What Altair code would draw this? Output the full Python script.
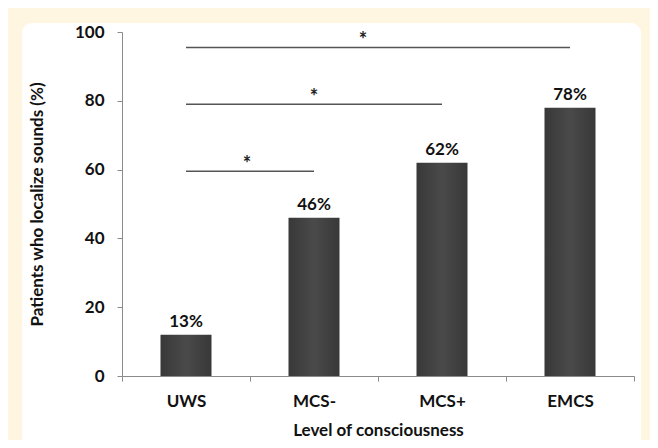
import altair as alt
import pandas as pd

categories = ["UWS", "MCS-", "MCS+", "EMCS"]
values = [12, 46, 62, 78]
value_labels = ["13%", "46%", "62%", "78%"]

sig_from = ["UWS", "UWS", "UWS"]
sig_to = ["MCS-", "MCS+", "EMCS"]
sig_y = [59.5, 79, 95.5]

y_ticks = [0, 20, 40, 60, 80, 100]

FONT = "Lato"
AXIS_GRAY = "#8a8a8a"
FS = 17

bars_df = pd.DataFrame({"cat": categories, "val": values, "lab": value_labels})
sig_df = pd.DataFrame({"from": sig_from, "to": sig_to, "y": sig_y})

xscale = alt.Scale(domain=categories, paddingInner=0, paddingOuter=0)
yscale = alt.Scale(domain=[0, 100])

panel = alt.Chart(pd.DataFrame({"a": [0]})).mark_rect(
    fill="white", cornerRadius=10
).encode(
    x=alt.value(-100), x2=alt.value(519), y=alt.value(-9), y2=alt.value(430)
)

bars = alt.Chart(bars_df).mark_bar(
    size=51,
    fill=alt.Gradient(
        gradient="linear", x1=0, x2=1, y1=0, y2=0,
        stops=[
            alt.GradientStop(color="#383838", offset=0),
            alt.GradientStop(color="#4a4a4a", offset=0.5),
            alt.GradientStop(color="#383838", offset=1),
        ],
    ),
).encode(
    x=alt.X(
        "cat:N", scale=xscale, sort=categories,
        axis=alt.Axis(
            title="Level of consciousness", labelAngle=0, tickBand="extent",
            labelFont=FONT, labelFontSize=FS, labelFontWeight="bold", labelColor="#111",
            titleFont=FONT, titleFontSize=FS, titleFontWeight="bold", titleColor="#111",
            domainColor=AXIS_GRAY, tickColor=AXIS_GRAY, tickSize=5,
            labelPadding=12, titlePadding=13, zindex=1,
        ),
    ),
    y=alt.Y(
        "val:Q", scale=yscale,
        axis=alt.Axis(
            title="Patients who localize sounds (%)", values=y_ticks, grid=False,
            labelFont=FONT, labelFontSize=FS, labelFontWeight="bold", labelColor="#111",
            titleFont=FONT, titleFontSize=FS, titleFontWeight="bold", titleColor="#111",
            domainColor=AXIS_GRAY, tickColor=AXIS_GRAY, tickSize=5,
            labelPadding=13, titlePadding=28, zindex=1,
        ),
    ),
)

bar_text = alt.Chart(bars_df).mark_text(
    font=FONT, fontSize=FS, fontWeight="bold", color="#111", baseline="alphabetic", dy=-8
).encode(
    x=alt.X("cat:N", scale=xscale, sort=categories),
    y=alt.Y("val:Q", scale=yscale),
    text="lab:N",
)

rules = alt.Chart(sig_df).mark_rule(color="#555555", strokeWidth=1.5).encode(
    x=alt.X("from:N", scale=xscale, sort=categories),
    x2="to:N",
    y=alt.Y("y:Q", scale=yscale),
)

star_style = dict(font=FONT, fontSize=20, fontWeight="bold", color="#222", baseline="middle", dy=-6)

star1 = alt.Chart(sig_df.iloc[[0]]).mark_text(text="*", dx=-3, **star_style).encode(
    x=alt.X("to:N", scale=xscale, sort=categories, bandPosition=0),
    y=alt.Y("y:Q", scale=yscale),
)
star2 = alt.Chart(sig_df.iloc[[1]]).mark_text(text="*", dx=-128, **star_style).encode(
    x=alt.X("to:N", scale=xscale, sort=categories, bandPosition=0.5),
    y=alt.Y("y:Q", scale=yscale),
)
star3 = alt.Chart(sig_df.iloc[[2]]).mark_text(text="*", dx=-143, **star_style).encode(
    x=alt.X("to:N", scale=xscale, sort=categories, bandPosition=0),
    y=alt.Y("y:Q", scale=yscale),
)

chart = alt.layer(panel, bars, bar_text, rules, star1, star2, star3).properties(
    width=512,
    height=344,
    autosize=alt.AutoSizeParams(type="none"),
    padding={"left": 114, "top": 24, "right": 16, "bottom": 64},
    background="#FEF6E1",
).configure_view(stroke=None)

chart.save("out.html", embed_options={"renderer": "svg", "actions": False})
